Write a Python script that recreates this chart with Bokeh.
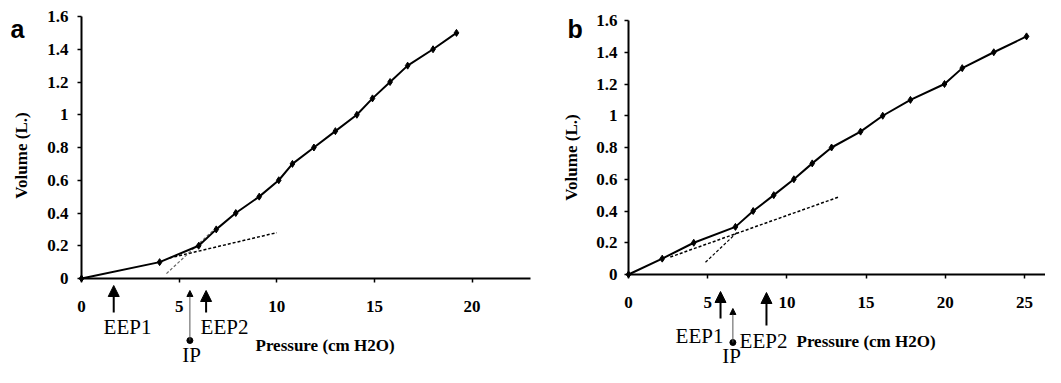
import math
from bokeh.plotting import figure
from bokeh.layouts import row
from bokeh.models import (Range1d, FixedTicker, CustomJSTickFormatter, Label,
                          Arrow, NormalHead, LinearAxis)
from bokeh.embed import file_html
from bokeh.resources import INLINE

# ---- data -------------------------------------------------------------
pressure_a = [0, 4.0, 6.0, 6.9, 7.9, 9.1, 10.1, 10.8, 11.9, 13.0, 14.1, 14.9, 15.8, 16.7, 18.0, 19.2]
volume_a = [0, 0.1, 0.2, 0.3, 0.4, 0.5, 0.6, 0.7, 0.8, 0.9, 1.0, 1.1, 1.2, 1.3, 1.4, 1.5]
tangent1_a_x = [4.5, 10.0]
tangent1_a_y = [0.125, 0.28]
tangent2_a_x = [4.35, 6.8]
tangent2_a_y = [0.03, 0.30]
eep_a = [1.65, 6.38]          # EEP1, EEP2 (cm H2O)
ip_a = 5.55

pressure_b = [0, 2.13, 4.12, 6.75, 7.87, 9.17, 10.44, 11.6, 12.82, 14.65, 16.05, 17.8, 19.95, 21.07, 23.06, 25.13]
volume_b = [0, 0.1, 0.2, 0.3, 0.4, 0.5, 0.6, 0.7, 0.8, 0.9, 1.0, 1.1, 1.2, 1.3, 1.4, 1.5]
tangent1_b_x = [2.64, 13.24]
tangent1_b_y = [0.11, 0.487]
tangent2_b_x = [4.86, 6.86]
tangent2_b_y = [0.077, 0.266]
eep_b = [5.81, 8.71]
ip_b = 6.59

y_ticks = [0, 0.2, 0.4, 0.6, 0.8, 1.0, 1.2, 1.4, 1.6]
x_ticks_a = [0, 5, 10, 15, 20]
x_ticks_b = [0, 5, 10, 15, 20, 25]

SERIF = "Liberation Serif"
H = 367


def make_panel(letter, px, vy, t1x, t1y, t2x, t2y, eep, ip, xticks, cfg):
    W = cfg["W"]
    sx, sy = cfg["sx"], cfg["sy"]          # pixels per data unit
    ox, oy = cfg["ox"], cfg["oy"]          # origin (pixels from figure's left / top)
    p = figure(frame_width=W, frame_height=H, min_border=0,
               x_range=Range1d(-ox / sx, (W - ox) / sx),
               y_range=Range1d(-(H - oy) / sy, oy / sy),
               x_axis_location=None, y_axis_location=None, title=None,
               output_backend="svg", toolbar_location=None)
    p.outline_line_color = None
    p.grid.visible = False
    p.background_fill_color = "white"
    p.border_fill_color = "white"

    xaxis = LinearAxis(fixed_location=0, bounds=(0, cfg["xmax"]),
                       ticker=FixedTicker(ticks=xticks))
    yaxis = LinearAxis(fixed_location=0, bounds=(0, 1.6),
                       ticker=FixedTicker(ticks=y_ticks),
                       formatter=CustomJSTickFormatter(
                           code=r"return tick.toFixed(1).replace(/\.0$/, '');"))
    for ax in (xaxis, yaxis):
        ax.axis_line_width = 2
        ax.axis_line_color = "black"
        ax.major_tick_line_width = 1.5
        ax.major_tick_line_color = "black"
        ax.major_tick_out = 4
        ax.major_tick_in = 0
        ax.minor_tick_line_color = None
        ax.major_label_text_font = SERIF
        ax.major_label_text_font_style = "bold"
        ax.major_label_text_font_size = "17px"
        ax.major_label_text_color = "black"
    xaxis.major_label_standoff = cfg["xstand"]
    yaxis.major_label_standoff = cfg["ystand"]
    p.add_layout(xaxis, "below")
    p.add_layout(yaxis, "left")

    def X(pix):   # pixel offset from origin (right positive) -> data
        return pix / sx

    def Y(pix):   # pixel offset below axis (down positive) -> data
        return -pix / sy

    # tangent lines
    p.line(t1x, t1y, line_color="black", line_width=1.5, line_dash="3 2")
    p.line(t2x, t2y, line_color=cfg["t2col"], line_width=1.2, line_dash="3 2")
    # PV curve
    p.line(px, vy, line_color="black", line_width=2)
    p.scatter(px, vy, marker="diamond", size=7, color="black")

    # EEP arrows
    for xv, tip, tail in zip(eep, cfg["eep_tip"], cfg["eep_tail"]):
        p.add_layout(Arrow(x_start=xv, y_start=Y(tail), x_end=xv, y_end=Y(tip),
                           line_width=2, line_color="black",
                           end=NormalHead(size=11, fill_color="black", line_color="black")))
    # IP arrow (thin) with dot at its foot
    p.add_layout(Arrow(x_start=ip, y_start=Y(cfg["ip_dot"]), x_end=ip, y_end=Y(cfg["ip_tip"]),
                       line_width=1, line_color="#555555",
                       end=NormalHead(size=6, fill_color="black", line_color="black")))
    p.scatter([ip], [Y(cfg["ip_dot"])], marker="circle", size=6, color="black")

    for name, xo, yo in zip(["EEP1", "EEP2"], cfg["eep_lab_x"], cfg["eep_lab_y"]):
        p.add_layout(Label(x=X(xo), y=Y(yo), text=name, text_font=SERIF,
                           text_font_size="21px", text_align="center",
                           text_baseline="middle", text_color="black"))
    p.add_layout(Label(x=X(cfg["ip_lab"][0]), y=Y(cfg["ip_lab"][1]), text="IP",
                       text_font=SERIF, text_font_size="21px", text_align="center",
                       text_baseline="middle", text_color="black"))
    p.add_layout(Label(x=X(cfg["pr_lab"][0]), y=Y(cfg["pr_lab"][1]),
                       text="Pressure (cm H2O)", text_font=SERIF,
                       text_font_style="bold", text_font_size="17px",
                       text_align="left", text_baseline="middle", text_color="black"))
    p.add_layout(Label(x=X(cfg["ylab"][0]), y=Y(cfg["ylab"][1]), text="Volume (L.)",
                       angle=math.pi / 2, text_font=SERIF, text_font_style="bold",
                       text_font_size="17px", text_align="center",
                       text_baseline="middle", text_color="black"))
    p.add_layout(Label(x=X(cfg["letter"][0]), y=Y(cfg["letter"][1]), text=letter,
                       text_font="Liberation Sans", text_font_style="bold",
                       text_font_size="25px", text_align="left",
                       text_baseline="alphabetic", text_color="black"))
    return p


# panel a: figure spans x 0..560, origin at (81, 278)
cfg_a = dict(W=560, ox=81, oy=278, sx=19.53, sy=163.75, xmax=23.0,
             xstand=18, ystand=9, t2col="#666666",
             eep_tip=[7, 12], eep_tail=[34, 34], ip_tip=12, ip_dot=62,
             eep_lab_x=[46, 143], eep_lab_y=[48, 48], ip_lab=(110, 76),
             pr_lab=(174, 67), ylab=(-60, -123), letter=(-71, -250))
# panel b: figure spans x 560..1045, origin at (628, 274)
cfg_b = dict(W=485, ox=68, oy=274, sx=15.84, sy=158.75, xmax=26.3,
             xstand=18, ystand=7, t2col="black",
             eep_tip=[17, 18], eep_tail=[44, 51], ip_tip=34, ip_dot=68,
             eep_lab_x=[71, 135], eep_lab_y=[61, 66], ip_lab=(103, 81),
             pr_lab=(168, 67), ylab=(-57, -117), letter=(-61, -246))

pa = make_panel("a", pressure_a, volume_a, tangent1_a_x, tangent1_a_y,
                tangent2_a_x, tangent2_a_y, eep_a, ip_a, x_ticks_a, cfg_a)
pb = make_panel("b", pressure_b, volume_b, tangent1_b_x, tangent1_b_y,
                tangent2_b_x, tangent2_b_y, eep_b, ip_b, x_ticks_b, cfg_b)

layout = row(pa, pb, spacing=0)
open("out.html", "w").write(file_html(layout, INLINE))
